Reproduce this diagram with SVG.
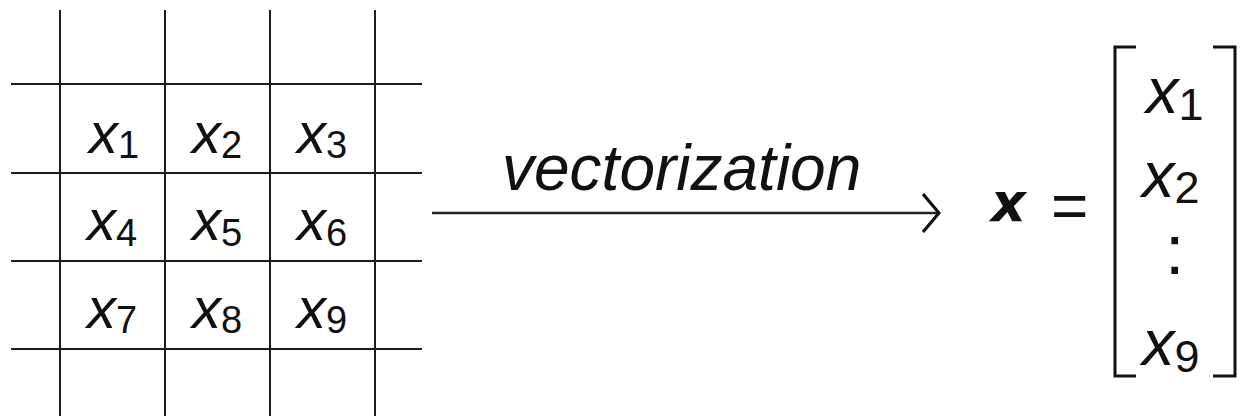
<svg xmlns="http://www.w3.org/2000/svg" width="1242" height="416" viewBox="0 0 1242 416">
  <style>
    .grid { stroke: #1e1e1e; stroke-width: 2; fill: none; }
    .var { font-family: "Liberation Sans", Arial, sans-serif; font-style: italic; font-size: 58px; fill: #111; }
    .sub { font-style: normal; font-size: 38px; }
    .vvar { font-family: "Liberation Sans", Arial, sans-serif; font-style: italic; font-size: 65px; fill: #111; }
    .vsub { font-style: normal; font-size: 45px; }
    .label { font-family: "Liberation Sans", Arial, sans-serif; font-style: italic; font-size: 64px; fill: #111; }
    .bracket { stroke: #111; stroke-width: 3; fill: none; }
    .conn { stroke: #222; stroke-width: 2.5; fill: none; }
  </style>
  <defs>
    <marker id="chevron" viewBox="0 0 20 44" refX="18" refY="22" markerWidth="20" markerHeight="44" markerUnits="userSpaceOnUse" orient="auto">
      <path d="M2 3 L18 22 L2 41" stroke="#111" stroke-width="3.2" fill="none"/>
    </marker>
  </defs>

  <rect width="1242" height="416" fill="#ffffff"/>

  <!-- pixel grid -->
  <g id="grid" class="grid">
    <line x1="60" y1="10" x2="60" y2="416"/>
    <line x1="165" y1="10" x2="165" y2="416"/>
    <line x1="270" y1="10" x2="270" y2="416"/>
    <line x1="375" y1="10" x2="375" y2="416"/>
    <line x1="11" y1="84" x2="422" y2="84"/>
    <line x1="11" y1="173" x2="422" y2="173"/>
    <line x1="11" y1="261" x2="422" y2="261"/>
    <line x1="11" y1="349" x2="422" y2="349"/>
  </g>

  <!-- cell labels -->
  <g id="cell-x1"><text class="var" x="89" y="153">x<tspan class="sub" dy="5">1</tspan></text></g>
  <g id="cell-x2"><text class="var" x="192" y="153">x<tspan class="sub" dy="5">2</tspan></text></g>
  <g id="cell-x3"><text class="var" x="297" y="153">x<tspan class="sub" dy="5">3</tspan></text></g>
  <g id="cell-x4"><text class="var" x="87" y="240">x<tspan class="sub" dy="6">4</tspan></text></g>
  <g id="cell-x5"><text class="var" x="192" y="240">x<tspan class="sub" dy="6">5</tspan></text></g>
  <g id="cell-x6"><text class="var" x="297" y="240">x<tspan class="sub" dy="6">6</tspan></text></g>
  <g id="cell-x7"><text class="var" x="87" y="328">x<tspan class="sub" dy="5">7</tspan></text></g>
  <g id="cell-x8"><text class="var" x="192" y="328">x<tspan class="sub" dy="5">8</tspan></text></g>
  <g id="cell-x9"><text class="var" x="297" y="328">x<tspan class="sub" dy="5">9</tspan></text></g>

  <!-- transformation arrow -->
  <g id="connectors">
    <line class="conn" x1="432" y1="213" x2="939" y2="213" marker-end="url(#chevron)"/>
    <text class="label" x="502" y="190">vectorization</text>
  </g>

  <!-- resulting column vector -->
  <g id="vector">
    <text x="991" y="221" font-family="DejaVu Sans, sans-serif" font-style="oblique" font-weight="bold" font-size="54" fill="#111">x</text>
    <text x="1051" y="228" font-family="Liberation Sans, Arial, sans-serif" font-size="64" fill="#111">=</text>
    <path class="bracket" d="M1136 47 H1115 V376 H1136"/>
    <path class="bracket" d="M1213 47 H1235 V376 H1213"/>
    <text class="vvar" x="1146" y="113">x<tspan class="vsub" dy="7">1</tspan></text>
    <text class="vvar" x="1142" y="197">x<tspan class="vsub" dy="6">2</tspan></text>
    <text x="1165" y="274" font-family="Liberation Sans, Arial, sans-serif" font-size="70" fill="#111">:</text>
    <text class="vvar" x="1142" y="365">x<tspan class="vsub" dy="7">9</tspan></text>
  </g>
</svg>
